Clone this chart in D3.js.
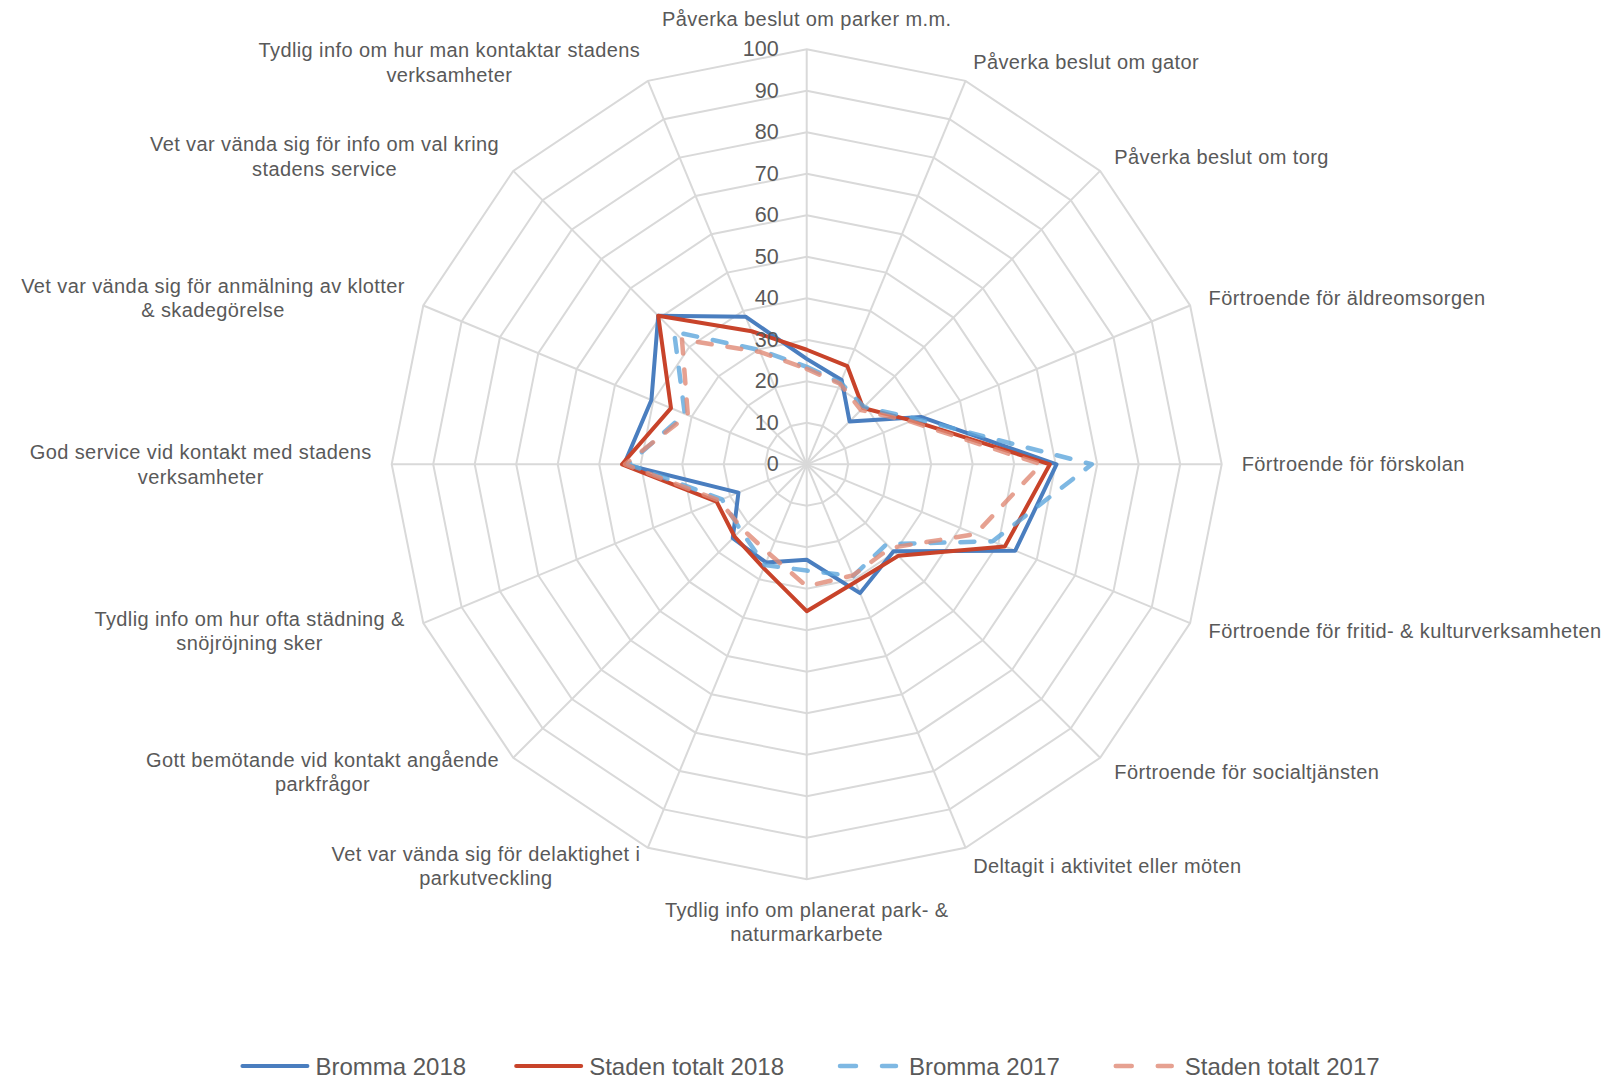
<!DOCTYPE html>
<html lang="sv">
<head>
    <meta charset="UTF-8">
    <title>Radar Bromma</title>
    <script src="https://d3js.org/d3.v7.min.js"></script>
    <style>
        body { margin: 0; background: #fff; }
        svg { display: block; font-family: "Liberation Sans", Arial, sans-serif; }
        .cat { font-size: 20px; fill: #595959; letter-spacing: 0.4px; }
        .tick { font-size: 21.5px; fill: #595959; }
        .leg { font-size: 24px; fill: #595959; }
    </style>
</head>
<body>
<svg id="chart" width="1622" height="1078"></svg>
<script>
    // categories, clockwise from the top ("\n" = line break as in the chart)
    const categories = [
        "Påverka beslut om parker m.m.",
        "Påverka beslut om gator",
        "Påverka beslut om torg",
        "Förtroende för äldreomsorgen",
        "Förtroende för förskolan",
        "Förtroende för fritid- & kulturverksamheten",
        "Förtroende för socialtjänsten",
        "Deltagit i aktivitet eller möten",
        "Tydlig info om planerat park- &\nnaturmarkarbete",
        "Vet var vända sig för delaktighet i\nparkutveckling",
        "Gott bemötande vid kontakt angående\nparkfrågor",
        "Tydlig info om hur ofta städning &\nsnöjröjning sker",
        "God service vid kontakt med stadens\nverksamheter",
        "Vet var vända sig för anmälning av klotter\n& skadegörelse",
        "Vet var vända sig för info om val kring\nstadens service",
        "Tydlig info om hur man kontaktar stadens\nverksamheter"
    ];

    const bromma2018 = [25.4, 22, 14.6, 29.8, 60.2, 54.4, 29.6, 33.6, 23, 25.6, 25.2, 17.8, 44, 40.5, 50.6, 38.5];
    const staden2018 = [27.6, 25.6, 19.2, 27.5, 58.6, 51.7, 31.2, 30.7, 35.4, 27.1, 24.6, 23.5, 44.5, 35.4, 50.6, 34.7];
    const bromma2017 = [23.5, 21.3, 19.5, 28.6, 68.7, 48.5, 27.2, 29.2, 25.6, 26.3, 22.5, 22.1, 43, 31.8, 45.2, 29.8];
    const staden2017 = [23, 21, 18.5, 27, 56.5, 44, 28.5, 29, 29.4, 23.4, 22, 22.8, 43.8, 31, 42.5, 29.3];

    const seriesNames = ["Bromma 2018", "Staden totalt 2018", "Bromma 2017", "Staden totalt 2017"];
    const ticks = [0, 10, 20, 30, 40, 50, 60, 70, 80, 90, 100];

    const series = [
        { name: seriesNames[0], values: bromma2018, color: "#4a7ebf", width: 4, dash: null, opacity: 1 },
        { name: seriesNames[1], values: staden2018, color: "#c8432a", width: 4, dash: null, opacity: 1 },
        { name: seriesNames[2], values: bromma2017, color: "#5ea6dc", width: 4.5, dash: "14,16", opacity: 0.8 },
        { name: seriesNames[3], values: staden2017, color: "#e08a76", width: 4.5, dash: "14,16", opacity: 0.8 }
    ];

    const svg = d3.select("#chart");
    const cx = 806.7, cy = 464.3;
    const n = categories.length;

    const r = d3.scaleLinear().domain([0, 100]).range([0, 415]);
    const angle = d3.scaleLinear().domain([0, n]).range([0, 2 * Math.PI]);

    const g = svg.append("g").attr("transform", `translate(${cx},${cy})`);

    // grid rings
    const ring = d3.lineRadial()
        .angle((d, i) => angle(i))
        .radius(d => r(d))
        .curve(d3.curveLinearClosed);

    g.selectAll(".ring")
        .data(ticks.filter(t => t > 0))
        .enter().append("path")
        .attr("d", t => ring(d3.range(n).map(() => t)))
        .attr("fill", "none")
        .attr("stroke", "#d9d9d9")
        .attr("stroke-width", 2);

    // spokes
    g.selectAll(".spoke")
        .data(d3.range(n))
        .enter().append("line")
        .attr("x1", 0).attr("y1", 0)
        .attr("x2", i => r(100) * Math.sin(angle(i)))
        .attr("y2", i => -r(100) * Math.cos(angle(i)))
        .attr("stroke", "#d9d9d9")
        .attr("stroke-width", 2);

    // series lines
    const line = d3.lineRadial()
        .angle((d, i) => angle(i))
        .radius(d => r(d))
        .curve(d3.curveLinearClosed);

    g.selectAll(".series")
        .data(series)
        .enter().append("path")
        .attr("d", s => line(s.values))
        .attr("fill", "none")
        .attr("stroke", s => s.color)
        .attr("stroke-width", s => s.width)
        .attr("stroke-dasharray", s => s.dash)
        .attr("stroke-opacity", s => s.opacity)
        .attr("stroke-linejoin", "round")
        .attr("stroke-linecap", "round");

    // value axis labels
    g.selectAll(".tick")
        .data(ticks)
        .enter().append("text")
        .attr("class", "tick")
        .attr("x", -28)
        .attr("y", t => -r(t))
        .attr("text-anchor", "end")
        .attr("dominant-baseline", "central")
        .text(t => t);

    // category labels
    const lineH = 24.5;
    categories.forEach(function (c, i) {
        const a = angle(i);
        const s = Math.sin(a), co = Math.cos(a);
        const ax = (r(100) + 20) * s;
        const ay = -(r(100) + 20) * co;
        const lines = c.split("\n");
        const blockH = lines.length * lineH;
        let yc = ay;
        if (Math.abs(s) < 0.1) yc = ay - co * (blockH / 2 - 2);

        const t = g.append("text").attr("class", "cat");
        lines.forEach(function (l, k) {
            t.append("tspan")
                .attr("y", yc + (k - (lines.length - 1) / 2) * lineH)
                .attr("dominant-baseline", "central")
                .text(l);
        });
        const widths = t.selectAll("tspan").nodes().map(nd => nd.getComputedTextLength());
        const maxW = d3.max(widths);
        let xc;
        if (s > 0.1) xc = ax + maxW / 2;
        else if (s < -0.1) xc = ax - maxW / 2;
        else xc = ax;
        if (lines.length === 1 && s > 0.1) {
            t.attr("text-anchor", "start").selectAll("tspan").attr("x", ax);
        } else {
            t.attr("text-anchor", "middle").selectAll("tspan").attr("x", xc);
        }
    });

    // legend
    const legY = 1066;
    const leg = svg.append("g");
    const items = [];
    series.forEach(function (s) {
        const it = leg.append("g");
        it.append("line")
            .attr("x1", s.dash ? 3 : 2).attr("x2", s.dash ? 64 : 67)
            .attr("y1", 0).attr("y2", 0)
            .attr("stroke", s.color)
            .attr("stroke-width", s.width)
            .attr("stroke-opacity", s.opacity)
            .attr("stroke-dasharray", s.dash ? "16,26" : null)
            .attr("stroke-dashoffset", s.dash ? -5 : 0)
            .attr("stroke-linecap", "round");
        const tx = it.append("text")
            .attr("class", "leg")
            .attr("x", s.dash ? 77 : 75)
            .attr("y", 0)
            .attr("dominant-baseline", "central")
            .text(s.name);
        items.push({ g: it, w: (s.dash ? 77 : 75) + tx.node().getComputedTextLength() });
    });
    const gap = 48;
    const total = d3.sum(items, d => d.w) + gap * (items.length - 1);
    let x0 = 810 - total / 2;
    items.forEach(function (d) {
        d.g.attr("transform", `translate(${x0},${legY})`);
        x0 += d.w + gap;
    });
</script>
</body>
</html>
